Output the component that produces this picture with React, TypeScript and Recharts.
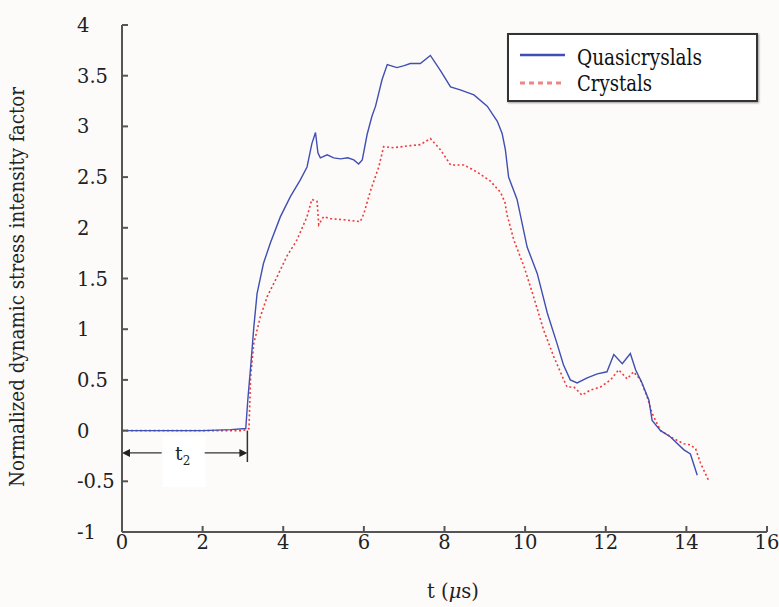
import React from 'react';
import { LineChart, Line, XAxis, YAxis, ReferenceLine } from 'recharts';

// time (us) and normalized DSIF
const quasiT = [
  0, 1.0, 2.0, 2.7, 3.07, 3.12, 3.2, 3.27, 3.35, 3.51, 3.68, 3.93, 4.18, 4.42, 4.59, 4.71,
  4.8, 4.86, 4.92, 5.09, 5.25, 5.42, 5.6, 5.75, 5.87, 5.96, 6.08, 6.2, 6.29, 6.45, 6.58,
  6.82, 7.0, 7.15, 7.4, 7.65, 7.9, 8.15, 8.39, 8.73, 9.06, 9.31, 9.43, 9.51, 9.59, 9.8,
  10.05, 10.3, 10.55, 10.79, 10.95, 11.12, 11.29, 11.54, 11.79, 12.03, 12.2, 12.41, 12.61,
  12.74, 12.9, 13.07, 13.15, 13.36, 13.6, 13.94, 14.1, 14.27,
];
const quasiK = [
  0, 0, 0, 0.01, 0.02, 0.3, 0.67, 1.02, 1.35, 1.65, 1.85, 2.11, 2.31, 2.47, 2.6, 2.83,
  2.94, 2.74, 2.69, 2.72, 2.69, 2.68, 2.69, 2.67, 2.63, 2.67, 2.92, 3.1, 3.2, 3.46, 3.61,
  3.58, 3.6, 3.62, 3.62, 3.7, 3.55, 3.39, 3.36, 3.31, 3.2, 3.05, 2.93, 2.77, 2.5, 2.28,
  1.81, 1.55, 1.16, 0.86, 0.65, 0.5, 0.47, 0.52, 0.56, 0.58, 0.75, 0.66, 0.76,
  0.6, 0.47, 0.3, 0.1, 0.0, -0.06, -0.19, -0.23, -0.44,
];

const crystT = [
  0, 1.0, 2.0, 3.0, 3.15, 3.19, 3.27, 3.43, 3.6, 3.85, 4.09, 4.34, 4.59, 4.71, 4.84, 4.88,
  5.0, 5.17, 5.5, 5.91, 6.0, 6.16, 6.37, 6.49, 6.74, 7.15, 7.4, 7.65, 7.9, 8.15, 8.48,
  8.81, 9.14, 9.39, 9.5, 9.55, 9.72, 9.97, 10.21, 10.46, 10.71, 10.96, 11.04, 11.21, 11.41,
  11.62, 11.87, 12.12, 12.32, 12.53, 12.69, 12.86, 13.03, 13.15, 13.36, 13.69, 13.94, 14.1,
  14.23, 14.35, 14.56,
];
const crystK = [
  0, 0, 0, 0, 0.02, 0.53, 0.86, 1.12, 1.32, 1.52, 1.72, 1.88, 2.11, 2.28, 2.26, 2.03,
  2.11, 2.09, 2.08, 2.06, 2.14, 2.36, 2.6, 2.8, 2.79, 2.81, 2.82, 2.88, 2.77, 2.62, 2.62,
  2.55, 2.46, 2.35, 2.25, 2.13, 1.88, 1.62, 1.32, 0.99, 0.73, 0.5, 0.43, 0.43, 0.35,
  0.4, 0.43, 0.5, 0.6, 0.51, 0.58, 0.5, 0.33, 0.17, 0.0, -0.08, -0.13, -0.14,
  -0.18, -0.32, -0.5,
];

const xTicks = [0, 2, 4, 6, 8, 10, 12, 14, 16];
const yTicks = [-1, -0.5, 0, 0.5, 1, 1.5, 2, 2.5, 3, 3.5, 4];

// t2 annotation: end time and height of the arrow
const t2End = 3.11;
const t2Y = -0.22;
const t2Tick = -0.31;

const quasiData = quasiT.map((t, i) => ({ t, k: quasiK[i] }));
const crystData = crystT.map((t, i) => ({ t, k: crystK[i] }));

// Liberation Serif falls back to a sans here, DejaVu Serif is squeezed with textLength instead
const serif = "'DejaVu Serif', serif";
const blue = '#3f4fb3';
const red = '#ee3b3b';

const YTick = (p: any) => (
  <text x={p.x} y={p.y} dy="0.36em" textAnchor="start" style={{ fontFamily: serif }} fontSize={19.5} fill="#222">
    {p.payload.value}
  </text>
);

const XTick = (p: any) => (
  <text x={p.x} y={p.y} dy="0.75em" textAnchor="middle" style={{ fontFamily: serif }} fontSize={19.5} fill="#222">
    {p.payload.value}
  </text>
);

const T2Arrow = (p: any) => {
  const { x1, y1, x2 } = p;
  const mid = (x1 + x2) / 2;
  return (
    <g>
      <rect x={mid - 22} y={y1 - 17} width={43} height={51} fill="#ffffff" />
      <line x1={x1 + 6} y1={y1} x2={mid - 23} y2={y1} stroke="#333" strokeWidth={1.3} />
      <line x1={mid + 20} y1={y1} x2={x2 - 6} y2={y1} stroke="#333" strokeWidth={1.3} />
      <polygon points={`${x1},${y1} ${x1 + 8},${y1 - 4} ${x1 + 8},${y1 + 4}`} fill="#222" />
      <polygon points={`${x2},${y1} ${x2 - 8},${y1 - 4} ${x2 - 8},${y1 + 4}`} fill="#222" />
      <text x={mid - 2} y={y1 + 7} textAnchor="middle" style={{ fontFamily: serif }} fontSize={19} fill="#222">
        t<tspan fontSize={12} dy={5}>2</tspan>
      </text>
    </g>
  );
};

export default function App() {
  return (
    <div style={{ position: 'absolute', left: 0, top: 0, width: 779, height: 607, background: '#fdfbf9' }}>
      <LineChart
        width={779}
        height={607}
        margin={{ top: 25, right: 12, bottom: 0, left: 0 }}
        style={{ fontFamily: serif }}
      >
        <XAxis
          dataKey="t"
          type="number"
          domain={[0, 16]}
          ticks={xTicks}
          allowDataOverflow
          height={75}
          tickSize={-6}
          tickMargin={8}
          stroke="#555"
          strokeWidth={2}
          tick={XTick}
          label={{
            content: () => (
              <text x={453} y={598} textAnchor="middle" style={{ fontFamily: serif }} fontSize={19.5} fill="#222">
                t (<tspan fontStyle="italic">μ</tspan>s)
              </text>
            ),
          }}
        />
        <XAxis
          xAxisId="top"
          orientation="top"
          type="number"
          domain={[0, 16]}
          ticks={xTicks}
          height={0}
          tickSize={-6}
          stroke="#8a8a8a"
          strokeWidth={1.3}
          tick={() => <g />}
        />
        <YAxis
          type="number"
          domain={[-1, 4]}
          ticks={yTicks}
          allowDataOverflow
          width={122}
          tickSize={-6}
          tickMargin={51}
          stroke="#555"
          strokeWidth={2}
          tick={YTick}
          label={{
            content: () => (
              <text
                x={24}
                y={287}
                transform="rotate(-90 24 287)"
                textAnchor="middle"
                style={{ fontFamily: serif }}
                fontSize={21}
                fill="#222"
                textLength={400}
                lengthAdjust="spacingAndGlyphs"
              >
                Normalized dynamic stress intensity factor
              </text>
            ),
          }}
        />
        <YAxis
          yAxisId="right"
          orientation="right"
          type="number"
          domain={[-1, 4]}
          ticks={yTicks}
          width={0}
          tickSize={-6}
          stroke="#7a7a7a"
          strokeWidth={1.3}
          tick={() => <g />}
        />
        <Line
          data={crystData}
          dataKey="k"
          type="linear"
          stroke={red}
          strokeWidth={1.6}
          strokeDasharray="2 2.5"
          dot={false}
          isAnimationActive={false}
        />
        <Line
          data={quasiData}
          dataKey="k"
          type="linear"
          stroke={blue}
          strokeWidth={1.4}
          dot={false}
          isAnimationActive={false}
        />
        <ReferenceLine
          segment={[
            { x: 0, y: t2Y },
            { x: t2End, y: t2Y },
          ]}
          shape={T2Arrow}
        />
        <ReferenceLine
          segment={[
            { x: t2End, y: 0 },
            { x: t2End, y: t2Tick },
          ]}
          stroke="#333"
          strokeWidth={1.5}
        />
      </LineChart>

      {/* legend box */}
      <div
        style={{
          position: 'absolute',
          left: 507,
          top: 33,
          width: 247,
          height: 65,
          border: '2.5px solid #333',
          background: '#ffffff',
          boxShadow: '1px 1px 2px rgba(0,0,0,0.4)',
        }}
      >
        <svg width={247} height={65} style={{ position: 'absolute', left: 0, top: 0 }}>
          <line x1={11} y1={20} x2={56} y2={20} stroke={blue} strokeWidth={2.5} />
          <line x1={11} y1={48} x2={56} y2={48} stroke="#f08585" strokeWidth={3} strokeDasharray="5 4" />
          <text
            x={68}
            y={30}
            style={{ fontFamily: serif }}
            fontSize={22}
            fill="#111"
            textLength={125}
            lengthAdjust="spacingAndGlyphs"
          >
            Quasicryslals
          </text>
          <text
            x={68}
            y={56}
            style={{ fontFamily: serif }}
            fontSize={22}
            fill="#111"
            textLength={75}
            lengthAdjust="spacingAndGlyphs"
          >
            Crystals
          </text>
        </svg>
      </div>
    </div>
  );
}
